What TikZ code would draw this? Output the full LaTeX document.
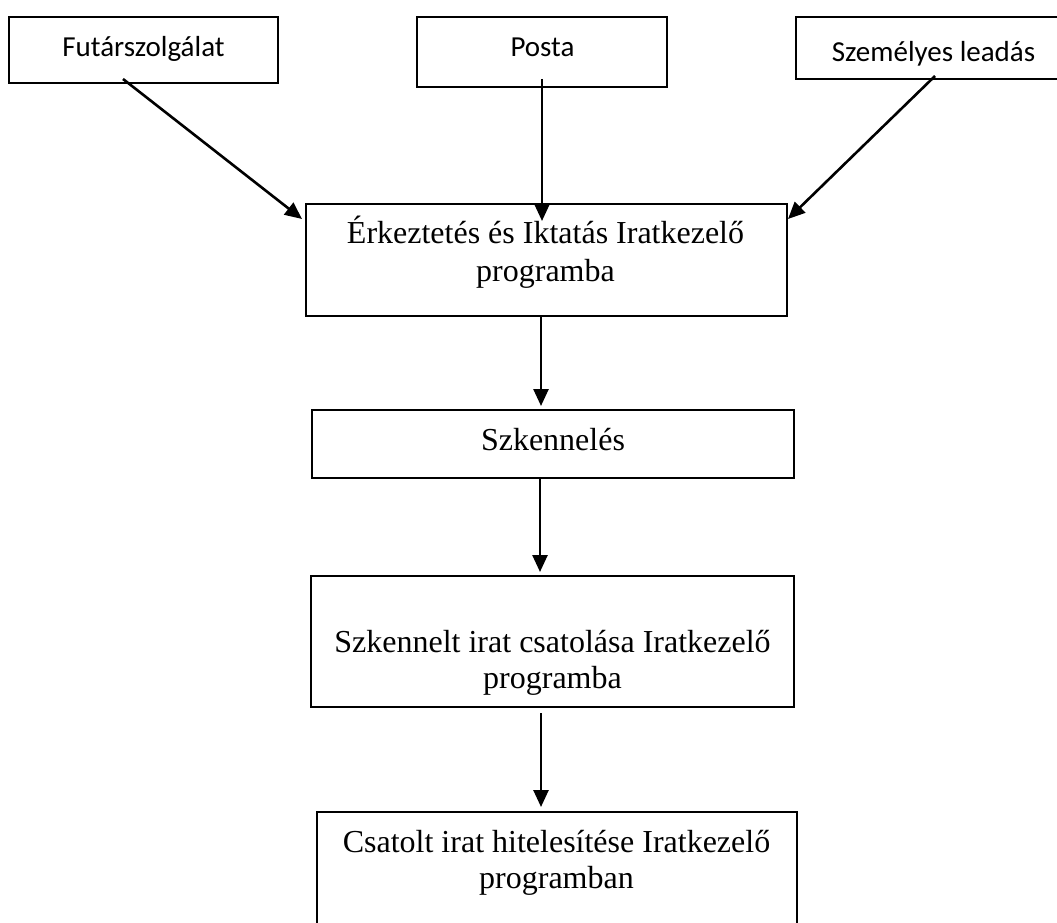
\documentclass[tikz,border=0pt]{standalone}
\usepackage{fontspec}
\setmainfont{Liberation Serif}
\newfontfamily\calibri{Carlito}
\usetikzlibrary{arrows.meta}
\begin{document}
\begin{tikzpicture}[x=1pt,y=-1pt,
  frame/.style={draw, line width=2pt, rectangle, inner sep=0pt},
  flow/.style={line width=2.6pt, -{Triangle[length=17pt,width=15pt]}},
  srclabel/.style={font=\calibri\fontsize{29}{35}\selectfont, anchor=base, inner sep=0pt},
  steplabel/.style={font=\fontsize{32}{37}\selectfont, anchor=base, inner sep=0pt, align=center},
]
\clip (0,0) rectangle (1057,923);

% source boxes
\node[frame, minimum width=269pt, minimum height=66pt] (fut) at (143.5,50) {};
\node[srclabel] (futt) at (143.5,57) {Futárszolgálat};
\node[frame, minimum width=250pt, minimum height=70pt] (posta) at (542,52) {};
\node[srclabel] (postat) at (542.5,57) {Posta};
\node[frame, minimum width=275pt, minimum height=62pt] (szem) at (933.5,48) {};
\node[srclabel] (szemt) at (933.5,62) {Személyes leadás};

% process steps (multi-line labels are placed by the baseline of their last line)
\node[frame, minimum width=481pt, minimum height=112pt] (b2) at (546.5,260) {};
\node[steplabel, font=\fontsize{32}{38}\selectfont] (b2t) at (545.5,281) {Érkeztetés és Iktatás Iratkezelő\\programba};
\node[frame, minimum width=482pt, minimum height=68pt] (b3) at (553,444) {};
\node[steplabel] (b3t) at (553,450) {Szkennelés};
\node[frame, minimum width=483pt, minimum height=131pt] (b4) at (552.5,641.5) {};
\node[steplabel, font=\fontsize{32}{36}\selectfont] (b4t) at (552.5,688) {Szkennelt irat csatolása Iratkezelő\\programba};
\node[frame, minimum width=480pt, minimum height=128pt] (b5) at (557,876) {};
\node[steplabel, font=\fontsize{32}{36}\selectfont] (b5t) at (556.5,888) {Csatolt irat hitelesítése Iratkezelő\\programban};

% connectors
\draw[flow] ([xshift=-20.5pt,yshift=5pt]fut.south) -- ([xshift=-3pt,yshift=-16pt]b2.north west);
\draw[flow] ([yshift=9pt]posta.south) -- ([xshift=-4.5pt,yshift=-18pt]b2.north);
\draw[flow] ([xshift=1.5pt,yshift=4pt]szem.south) -- ([yshift=-16pt]b2.north east);
\draw[flow] ([xshift=-5.5pt]b2.south) -- ([xshift=-12pt,yshift=3pt]b3.north);
\draw[flow] ([xshift=-13pt]b3.south) -- ([xshift=-12.5pt,yshift=3pt]b4.north);
\draw[flow] ([xshift=-11.5pt,yshift=-5pt]b4.south) -- ([xshift=-16pt,yshift=4pt]b5.north);
\end{tikzpicture}
\end{document}
